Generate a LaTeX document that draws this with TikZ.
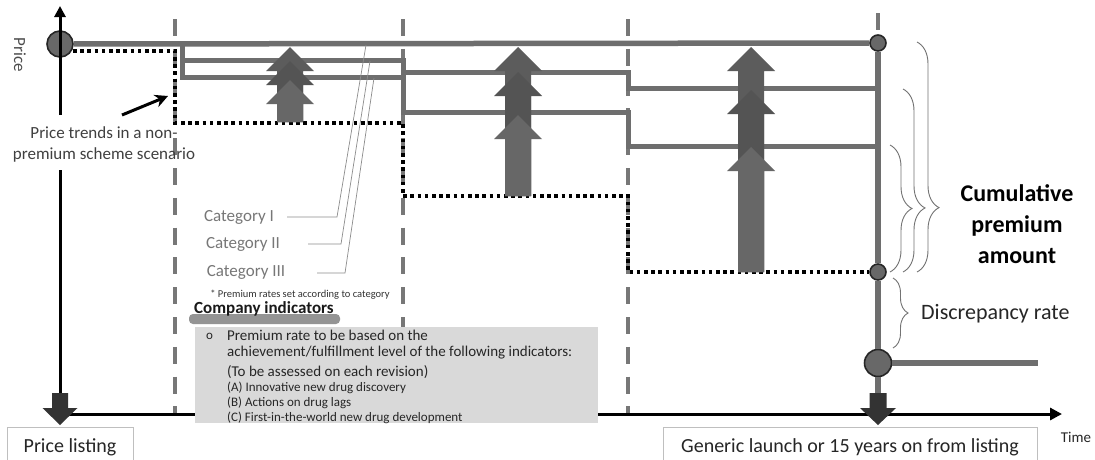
\documentclass[tikz,border=0pt]{standalone}
\usepackage{fontspec}
\setmainfont{Carlito}
\usetikzlibrary{arrows.meta,decorations.pathreplacing}
\definecolor{lg}{HTML}{6E6E6E}
\definecolor{dg}{HTML}{777777}
\definecolor{cg}{HTML}{686868}
\definecolor{ua}{HTML}{5C5C5C}
\definecolor{ub}{HTML}{545454}
\definecolor{uc}{HTML}{676767}
\definecolor{boxg}{HTML}{D9D9D9}
\definecolor{dk}{HTML}{333333}
\definecolor{txg}{HTML}{777777}
\newcommand\fsz[2]{\fontsize{#1}{#2}\selectfont}
\newcommand\blockup[4]{\fill[#4] (#1-13,#3) -- (#1-13,#2+24) -- (#1-24,#2+24) -- (#1,#2) -- (#1+24,#2+24) -- (#1+13,#2+24) -- (#1+13,#3) -- cycle;}
\begin{document}
\begin{tikzpicture}[x=1pt,y=-1pt,
  glines/.style={draw=lg,line width=5.5pt},
  catline/.style={draw=lg,line width=5pt},
  vdash/.style={draw=dg,line width=3.5pt,dash pattern=on 17pt off 12.8pt},
  dots/.style={draw=black,line width=3.2pt,dash pattern=on 3.6pt off 3.6pt},
  axis/.style={draw=black,line width=3pt},
  dot/.style={circle,fill=cg,draw=black!85,line width=1.6pt,inner sep=0pt},
  brc/.style={draw=black!55,line width=0.9pt,decorate},
  cattxt/.style={text=txg,font=\fsz{17}{20},inner sep=0pt},
  leader/.style={draw=black!45,line width=0.7pt},
  boxtxt/.style={text=black!85,anchor=west,inner sep=0pt},
  labbox/.style={draw=black!25,fill=white,line width=1pt,anchor=north,font=\fsz{20}{24},text=black!85}
]
\useasboundingbox (0,0) rectangle (1095,459);
\fill[white] (0,0) rectangle (1095,459);

% circles
\node[dot,minimum size=26pt] (c0) at (60,44) {};
\node[dot,minimum size=16pt] (ct) at (878,43) {};
\node[dot,minimum size=16pt] (cm) at (878,272) {};
\node[dot,minimum size=27pt] (cb) at (878,363) {};
\coordinate (xend) at (1062,414);
\coordinate (yend) at (60,6);
\coordinate (hr) at (1038,363);

% dashed revision lines
\draw[vdash] (175,19) -- (175,414);
\draw[vdash] (403,19) -- (403,327);
\draw[vdash] (628,19) -- (628,414);
\draw[vdash] (878,13) -- (ct.north);

% axes
\draw[axis,-{Triangle[width=11pt,length=11pt]}] (60,115) -- (yend);
\draw[axis] (c0) -- (60,115);
\draw[axis] (60,170) -- (60,396);
\draw[axis,-{Triangle[width=12pt,length=12pt]}] (60,414) -- (xend);

% price lines
\draw[glines] (c0) -- (ct);
\draw[glines] (ct) -- (cm);
\draw[glines] (cm) -- (cb);
\draw[glines] (cb) -- (hr);
\draw[glines] (cb) -- (878,395);
\draw[catline] (182,44) -- (182,60) -- (403,60) -- (403,72) -- (628,72) -- (628,88) -- (ct.center |- 0,88);
\draw[catline] (182,44) -- (182,77) -- (403,77) -- (403,112) -- (628,112) -- (628,146) -- (ct.center |- 0,146);

% non-premium price trend
\draw[dots] (73,51) -- (175,51) -- (175,123) -- (403,123) -- (403,196) -- (628,196) -- (628,272) -- (cm);

% premium arrows
\blockup{290}{47}{122}{ua}
\blockup{290}{61}{122}{ub}
\blockup{290}{80}{122}{uc}
\blockup{518}{47}{196}{ua}
\blockup{518}{72}{196}{ub}
\blockup{518}{115}{196}{uc}
\blockup{751}{47}{272}{ua}
\blockup{751}{90}{272}{ub}
\blockup{751}{147}{272}{uc}

% down block arrows
\fill[dk] (52,393) -- (68,393) -- (68,408) -- (77.5,408) -- (60,425) -- (42.5,408) -- (52,408) -- cycle;
\fill[dk] (869.5,393) -- (886.5,393) -- (886.5,408) -- (896,408) -- (878,425) -- (860,408) -- (869.5,408) -- cycle;

% price label
\node[rotate=-90,font=\fsz{17}{20},text=black!70] (price) at (20,55) {Price};

% non-premium label and arrow
\node[align=center,font=\fsz{17}{21},text=black!75] (np) at (104,144) {Price trends in a non-\\premium scheme scenario};
\coordinate (npa) at (122,115);
\draw[line width=3pt,-{Stealth[length=13pt,width=13pt]}] (npa) -- (168,96);

% categories
\node[cattxt] (k1) at (239,217) {Category I};
\node[cattxt] (k2) at (243,244) {Category II};
\node[cattxt] (k3) at (246,272) {Category III};
\draw[leader] (287,217) -- (337,217) -- (366,45);
\draw[leader] (308,244) -- (341,244) -- (370,61);
\draw[leader] (317,273) -- (345,273) -- (374,78);
\node[font=\fsz{10.5}{12},text=black!80,inner sep=0pt] (note) at (300,295) {* Premium rates set according to category};

% company indicators
\fill[black!42,rounded corners=4pt] (189,314) rectangle (340,324);
\node[font=\bfseries\fsz{17}{20},anchor=west,inner sep=0pt,text=black!90] (ci) at (194,309) {Company indicators};
\node[fill=boxg,minimum width=403pt,minimum height=96pt,anchor=north west,inner sep=0pt] (ind) at (195,327) {};
\node[boxtxt,font=\fsz{13}{15}] (bul) at (206,336) {o};
\node[boxtxt,font=\fsz{15}{18}] (l1) at (227,335) {Premium rate to be based on the};
\node[boxtxt,font=\fsz{15}{18}] (l2) at (227,353) {achievement/fulfillment level of the following indicators:};
\node[boxtxt,font=\fsz{15}{18}] (l3) at (227,372) {(To be assessed on each revision)};
\node[boxtxt,font=\fsz{13}{15}] (l4) at (227,388) {(A) Innovative new drug discovery};
\node[boxtxt,font=\fsz{13}{15}] (l5) at (227,403) {(B) Actions on drug lags};
\node[boxtxt,font=\fsz{13}{15}] (l6) at (227,418) {(C) First-in-the-world new drug development};

% braces
\draw[brc,decoration={brace,amplitude=22pt,aspect=0.72}] (917,42) -- (917,272);
\draw[brc,decoration={brace,amplitude=22pt,aspect=0.65}] (903,89) -- (903,272);
\draw[brc,decoration={brace,amplitude=22pt,aspect=0.5}] (890,145) -- (890,272);
\draw[brc,decoration={brace,amplitude=15pt,aspect=0.5}] (893,278) -- (893,348);
\node[align=center,font=\bfseries\fsz{24}{31}] (cum) at (1017,224) {Cumulative\\premium\\amount};
\node[anchor=west,font=\fsz{22}{26},text=black!85,inner sep=0pt] (disc) at (921,314) {Discrepancy rate};

% bottom labels
\node[labbox,minimum width=126pt,minimum height=40pt] (pl) at (70,427) {\raisebox{4pt}{Price listing}};
\node[labbox,minimum width=374pt,minimum height=40pt] (gl) at (850,427) {\raisebox{4pt}{Generic launch or 15 years on from listing}};
\node[font=\fsz{15}{18},text=black!85] (time) at (1076,437) {Time};
\end{tikzpicture}
\end{document}
